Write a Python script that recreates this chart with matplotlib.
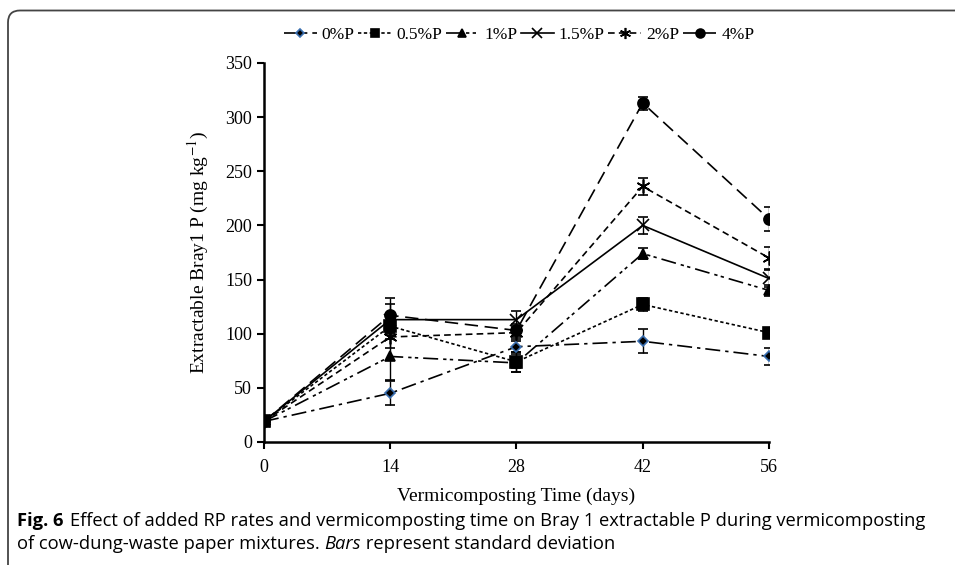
import numpy as np
import matplotlib.pyplot as plt
from matplotlib.lines import Line2D
from matplotlib.patches import FancyBboxPatch

days = [0, 14, 28, 42, 56]
labels = ["0%P", "0.5%P", "1%P", "1.5%P", "2%P", "4%P"]

p0 = [19, 45, 88, 93, 79]
p05 = [19, 107, 74, 127, 101]
p1 = [19, 79, 73, 174, 140]
p15 = [19, 113, 113, 200, 151]
p2 = [19, 97, 101, 236, 170]
p4 = [19, 117, 103, 313, 206]

sd0 = [0, 11, 5, 11, 8]
sd05 = [0, 12, 9, 6, 3]
sd1 = [0, 22, 8, 5, 5]
sd15 = [0, 14, 8, 8, 8]
sd2 = [0, 10, 6, 8, 10]
sd4 = [0, 16, 6, 6, 11]

series = [p0, p05, p1, p15, p2, p4]
errs = [sd0, sd05, sd1, sd15, sd2, sd4]
markers = ["D", "s", "^", "x", (6, 2, 0), "o"]
msizes = [5, 8, 7, 9, 10, 8]
styles = [(0, (9, 3, 2, 3)), (0, (2, 1.5)), (0, (9, 3, 2, 2, 2, 3)),
          "-", (0, (4, 2.5)), (0, (8, 4))]

plt.rcParams['font.family'] = ['Liberation Serif', 'DejaVu Serif']
plt.rcParams['mathtext.fontset'] = 'stix'

fig = plt.figure(figsize=(9.55, 5.65), dpi=100)
ax = fig.add_axes([0.2764, 0.2177, 0.5288, 0.6708])

handles = []
for y, e, m, ms, ls, lab in zip(series, errs, markers, msizes, styles, labels):
    mec = "black"
    if lab == "0%P":
        mec = "#3a6fb0"
    ax.errorbar(days, y, yerr=e, color="black", lw=1.2, ls=ls, marker=m,
                ms=ms, mfc="black", mec=mec, mew=1.2, capsize=3.5, elinewidth=1,
                capthick=1)
    handles.append(Line2D([], [], color="black", lw=1.2, ls=ls, marker=m,
                          ms=ms * 0.8, mfc="black", mec=mec, mew=1.2, label=lab))

ax.set_xlim(0, 56)
ax.set_ylim(0, 350)
ax.set_xticks(days)
ax.set_yticks(np.arange(0, 351, 50))
ax.spines['top'].set_visible(False)
ax.spines['right'].set_visible(False)
ax.spines['left'].set_linewidth(1.8)
ax.spines['bottom'].set_linewidth(1.8)
ax.tick_params(labelsize=13, width=1.5, length=5, direction='out')
ax.tick_params(axis='x', pad=7)
ax.set_xlabel("Vermicomposting Time (days)", fontsize=14, labelpad=9)
ax.set_ylabel("Extractable Bray1 P (mg kg$^{-1}$)", fontsize=14, labelpad=10)

ax.legend(handles=handles, loc="center", bbox_to_anchor=(0.505, 1.075), ncol=6,
          frameon=False, fontsize=12.5, handlelength=1.9, handletextpad=0.3,
          columnspacing=0.2)

# rounded frame around the figure
frame = FancyBboxPatch((8, -100), 1200, 654.5, boxstyle="round,pad=0,rounding_size=12",
                       fill=False, ec="#444444", lw=1.3, transform=None)
fig.add_artist(frame)

cap = ["Open Sans", "DejaVu Sans"]
fs = 13.2
fig.text(0.018, 0.077, "Fig. 6", fontsize=fs, fontweight="bold", family=cap, va="center")
fig.text(0.073, 0.077, "Effect of added RP rates and vermicomposting time on Bray 1 extractable P during vermicomposting",
         fontsize=fs, family=cap, va="center")
t1 = fig.text(0.018, 0.038, "of cow-dung-waste paper mixtures. ", fontsize=fs, family=cap,
              va="center")
fig.canvas.draw()
x2 = t1.get_window_extent().x1 / fig.bbox.width
t2 = fig.text(x2, 0.038, "Bars", fontsize=fs, family=cap, style="italic", va="center")
fig.canvas.draw()
x3 = t2.get_window_extent().x1 / fig.bbox.width
fig.text(x3, 0.038, " represent standard deviation", fontsize=fs, family=cap, va="center")

fig.savefig("out.png", dpi=100)
